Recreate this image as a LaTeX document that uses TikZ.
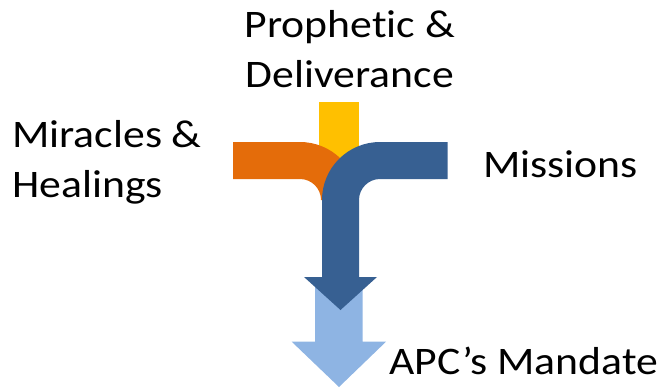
\documentclass[tikz,border=0pt]{standalone}
\usepackage{fontspec}
\usepackage{graphicx}
\setmainfont[Ligatures=NoCommon]{Carlito}
\definecolor{cyellow}{HTML}{FFC000}
\definecolor{corange}{HTML}{E46C0A}
\definecolor{cblue}{HTML}{376092}
\definecolor{clight}{HTML}{8EB4E3}
\newcommand{\widetxt}[1]{\scalebox{1.12}[1]{#1}}
\tikzset{
  lbl/.style={inner sep=0pt, font=\fontsize{39}{49.6}\selectfont},
}
\begin{document}
\begin{tikzpicture}[x=1pt,y=-1pt]
\useasboundingbox (0,0) rectangle (658,388);
% yellow bar
\fill[cyellow] (319,102) rectangle (358.7,170);
% orange bent band
\fill[corange] (233,142) -- (300,142) arc[start angle=-90,end angle=0,radius=58] -- (321,200) arc[start angle=0,end angle=-90,radius=21] -- (233,179) -- cycle;
% light blue arrow
\fill[clight] (315,285) -- (362.7,285) -- (362.7,341.7) -- (386,341.7) -- (339,387) -- (291.7,341.7) -- (315,341.7) -- cycle;
% dark blue bent arrow
\fill[cblue] (447.7,142) -- (380,142) arc[start angle=-90,end angle=-180,radius=58] -- (322,277) -- (304,277) -- (340.5,310) -- (377,277) -- (359,277) -- (359,200) arc[start angle=180,end angle=270,radius=21] -- (447.7,179) -- cycle;
% labels
\node[lbl, anchor=base] (pro1) at (349.7,37.7) {\widetxt{Prophetic \&}};
\node[lbl, anchor=base] (pro2) at (349.7,87.3) {\widetxt{Deliverance}};
\node[lbl, anchor=base west] (mir1) at (12,147.3) {\widetxt{Miracles \&}};
\node[lbl, anchor=base west] (mir2) at (12,197.3) {\widetxt{Healings}};
\node[lbl, anchor=base west] (mis) at (483,177.3) {\widetxt{Missions}};
\node[lbl, anchor=base west] (apc) at (389,374) {\widetxt{APC’s Mandate}};
\end{tikzpicture}
\end{document}
